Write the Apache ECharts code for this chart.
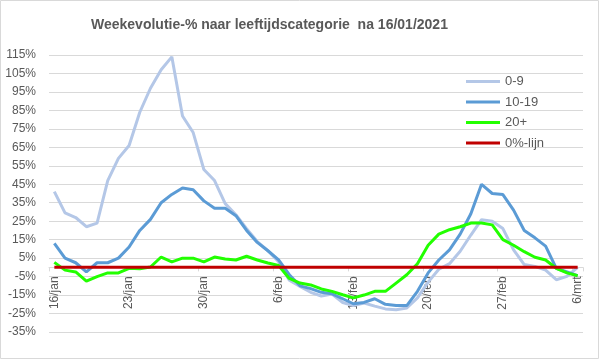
<!DOCTYPE html>
<html>
<head>
<meta charset="utf-8">
<script src="https://cdn.jsdelivr.net/npm/echarts@6/dist/echarts.min.js"></script>
<style>
html,body{margin:0;padding:0;background:#fff;}
#chart{width:599px;height:359px;}
</style>
</head>
<body>
<div id="chart"></div>
<script>
var categories = ['16/jan','17/jan','18/jan','19/jan','20/jan','21/jan','22/jan','23/jan','24/jan','25/jan','26/jan','27/jan','28/jan','29/jan','30/jan','31/jan',
 '1/feb','2/feb','3/feb','4/feb','5/feb','6/feb','7/feb','8/feb','9/feb','10/feb','11/feb','12/feb','13/feb','14/feb','15/feb','16/feb','17/feb','18/feb','19/feb','20/feb','21/feb','22/feb','23/feb','24/feb','25/feb','26/feb','27/feb','28/feb',
 '1/mrt','2/mrt','3/mrt','4/mrt','5/mrt','6/mrt'];
var s09 = [41, 29.5, 27, 22, 24, 47, 59, 66, 84, 97, 107, 114, 82, 73, 53, 47, 34.5, 28.5, 21, 14, 9, 3,
 -7, -10.3, -13.5, -15.5, -14.5, -19, -20.7, -19.3, -21, -22.5, -23, -22, -16.5, -8, -1, 2, 8.7, 17.5, 25.8, 25, 21, 9.5, 1.5, 0.5, -1.5, -6.7, -4.9, 0];
var s1019 = [13, 5, 2.5, -2.5, 2.5, 2.5, 5, 11, 20, 26, 35, 39.5, 43, 42, 36, 32, 32, 28, 20, 13.5, 9, 4,
 -4, -10, -11.5, -13.5, -14.3, -17, -19.7, -19, -17, -20, -20.7, -20.7, -13, -3, 4, 9.5, 18, 29, 45, 40, 39.4, 31, 20, 16, 11.5, -0.5, -2.5, -4.5];
var s20 = [2.7, -1.5, -2.5, -7.5, -5, -3, -3, -0.5, -0.7, 0.2, 5.6, 3, 5, 5, 3, 5.6, 4.5, 4, 6, 4, 2.4, 1,
 -6, -8.5, -9.5, -11.7, -13, -14.8, -16.5, -15, -13, -13, -8.5, -4, 2, 12, 18, 20.4, 22, 24, 24, 23, 15, 12, 8.5, 5.5, 4, -0.5, -3, -4.5];
var zeroLine = [0,0,0,0,0,0,0,0,0,0,0,0,0,0,0,0,0,0,0,0,0,0,0,0,0,0,0,0,0,0,0,0,0,0,0,0,0,0,0,0,0,0,0,0,0,0,0,0,0,0];
var seriesNames = ['0-9','10-19','20+','0%-lijn'];
var yTicks = {min: -35, max: 115, step: 10};

var FONT = 'Liberation Sans';
var GRID = {left: 49, right: 16, top: 55, bottom: 27};
var plotH = 359 - GRID.top - GRID.bottom;
// put the category axis on the 0% level (Excel "axis crosses at 0")
var zeroOffset = -plotH * (0 - yTicks.min) / (yTicks.max - yTicks.min);

var chart = echarts.init(document.getElementById('chart'), null, {renderer: 'canvas'});
function line(name, data, color, z) {
  return {name: name, type: 'line', data: data, symbol: 'none', showSymbol: false,
    lineStyle: {color: color, width: 3}, itemStyle: {color: color}, z: z, animation: false};
}
chart.setOption({
  animation: false,
  title: {
    text: 'Weekevolutie-% naar leeftijdscategorie  na 16/01/2021',
    left: 86, top: 13,
    textStyle: {fontFamily: FONT, fontSize: 14, fontWeight: 'bold', color: '#595959'}
  },
  graphic: [{type: 'rect', shape: {x: 0.5, y: 0.5, width: 598, height: 358},
    style: {fill: 'none', stroke: '#d9d9d9', lineWidth: 1}, silent: true}],
  legend: {
    orient: 'vertical', left: 461, top: 69, icon: 'rect', itemWidth: 34, itemHeight: 3, itemGap: 5.5,
    data: seriesNames,
    textStyle: {fontFamily: FONT, fontSize: 13, color: '#595959', lineHeight: 15}
  },
  grid: {left: GRID.left, right: GRID.right, top: GRID.top, bottom: GRID.bottom, containLabel: false, outerBoundsMode: 'none'},
  xAxis: {
    type: 'category', data: categories, boundaryGap: true, position: 'bottom', offset: zeroOffset,
    axisLine: {onZero: false, lineStyle: {color: '#d9d9d9'}},
    axisTick: {show: true, interval: 6, length: 4, lineStyle: {color: '#d9d9d9'}},
    axisLabel: {interval: 6, rotate: 90, margin: 9, fontFamily: FONT, fontSize: 12, color: '#595959'},
    splitLine: {show: false}
  },
  yAxis: {
    type: 'value', min: yTicks.min, max: yTicks.max, interval: yTicks.step,
    axisLine: {show: false}, axisTick: {show: false},
    axisLabel: {formatter: '{value}%', margin: 13, fontFamily: FONT, fontSize: 12, color: '#595959'},
    splitLine: {lineStyle: {color: '#d9d9d9', width: 1}}
  },
  series: [
    line(seriesNames[0], s09, '#b4c7e7', 2),
    line(seriesNames[1], s1019, '#5b9bd5', 3),
    line(seriesNames[2], s20, '#22ff00', 4),
    line(seriesNames[3], zeroLine, '#c00000', 5)
  ]
});
</script>
</body>
</html>
